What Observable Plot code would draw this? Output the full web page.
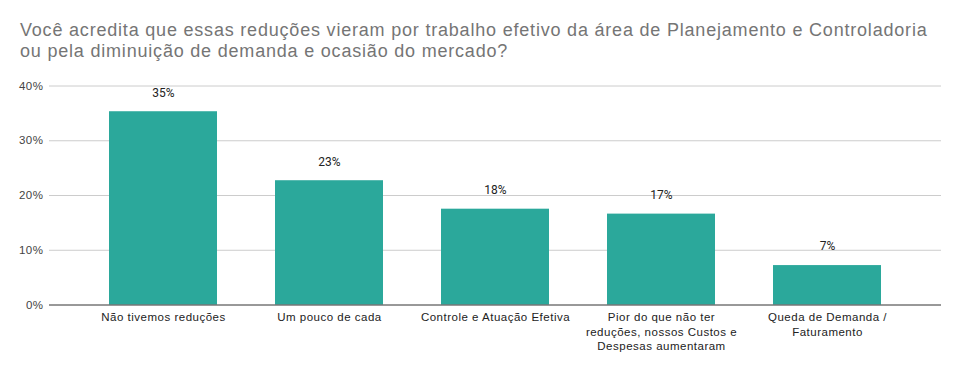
<!DOCTYPE html>
<html>
<head>
<meta charset="utf-8">
<script src="https://cdn.jsdelivr.net/npm/d3@7"></script>
<script src="https://cdn.jsdelivr.net/npm/@observablehq/plot@0.6"></script>
<style>
  html, body { margin: 0; padding: 0; background: #fff; }
  #title { font-family: "Liberation Sans", Arial, sans-serif; font-size: 18px; line-height: 21px; letter-spacing: 0.8px; color: #757575; padding: 20px 0 0 20px; height: 55px; box-sizing: content-box; white-space: nowrap; }
  #chart svg { display: block; }
  #chart svg g[aria-label^="x-axis"] text, #chart svg g[aria-label^="y-axis"] text { letter-spacing: 0.5px; }
</style>
</head>
<body>
<div id="title">Você acredita que essas reduções vieram por trabalho efetivo da área de Planejamento e Controladoria<br>ou pela diminuição de demanda e ocasião do mercado?</div>
<div id="chart"></div>
<script>
const categories = [
  "Não tivemos reduções",
  "Um pouco de cada",
  "Controle e Atuação Efetiva",
  "Pior do que não ter reduções, nossos Custos e Despesas aumentaram",
  "Queda de Demanda / Faturamento"
];
const tickLabels = [
  "Não tivemos reduções",
  "Um pouco de cada",
  "Controle e Atuação Efetiva",
  "Pior do que não ter\nreduções, nossos Custos e\nDespesas aumentaram",
  "Queda de Demanda /\nFaturamento"
];
const values = [35.3, 22.7, 17.5, 16.6, 7.2];
const yTicks = [0, 10, 20, 30, 40];

const data = categories.map((c, i) => ({category: c, value: values[i], label: tickLabels[i]}));

const chart = Plot.plot({
  width: 959,
  height: 296,
  marginLeft: 49,
  marginRight: 18,
  marginTop: 10.5,
  marginBottom: 66.5,
  style: {fontFamily: "'Liberation Sans', Arial, sans-serif", fontSize: "11.5px", color: "#222", background: "#fff"},
  x: {domain: categories, padding: 0.35, label: null},
  y: {domain: [0, 40], label: null},
  marks: [
    Plot.ruleY(yTicks.filter(d => d > 0), {stroke: "#cccccc", strokeWidth: 1}),
    Plot.barY(data, {x: "category", y: "value", fill: "#2ba89b"}),
    Plot.ruleY([0], {stroke: "#333333", strokeWidth: 1}),
    Plot.text(data, {x: "category", y: "value", text: d => Math.round(d.value) + "%", dy: -19, fill: "#222", fontFamily: "Roboto, sans-serif", fontSize: 12}),
    Plot.axisY({ticks: yTicks, tickFormat: d => d + "%", tickSize: 0, tickPadding: 6, fill: "#444", fontSize: 11.5}),
    Plot.axisX({tickFormat: (d, i) => tickLabels[categories.indexOf(d)], tickSize: 0, tickPadding: 6, lineHeight: 1.26, fill: "#222", fontSize: 11.5})
  ]
});
document.getElementById("chart").appendChild(chart);
</script>
</body>
</html>
